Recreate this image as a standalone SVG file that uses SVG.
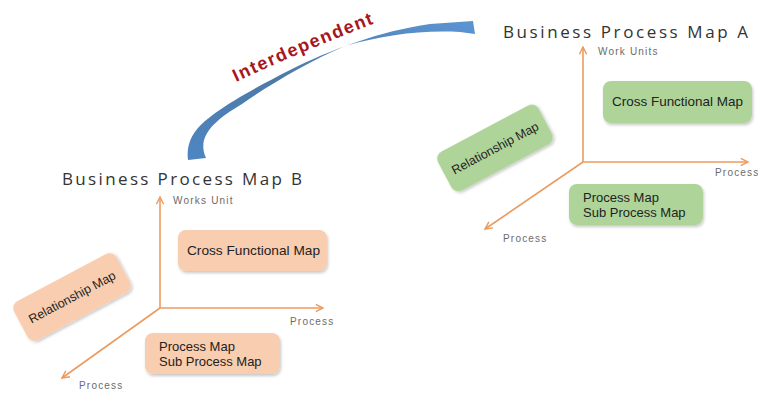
<svg xmlns="http://www.w3.org/2000/svg" width="758" height="393" viewBox="0 0 758 393">
<style>
.title{font-family:"Open Sans","Liberation Sans",Arial,sans-serif;font-size:17px;fill:#333333}
.axlbl{font-family:"Liberation Sans",Arial,sans-serif;font-size:10px;fill:#6b6b6b;letter-spacing:1.2px}
.box-b{fill:#f8cdb0}
.box-a{fill:#aed49a}
.btxt{font-family:"Liberation Sans",Arial,sans-serif;font-size:13px;fill:#222222}
.axis{stroke:#eb9b5f;stroke-width:1.6;fill:none}
.interd{font-family:"Liberation Sans",Arial,sans-serif;font-size:18px;font-weight:bold;fill:#a8151b}
</style>
<defs>
<marker id="ah" viewBox="0 0 10 10" refX="9" refY="5" markerWidth="9" markerHeight="9" markerUnits="userSpaceOnUse" orient="auto">
<path d="M1,1 L9,5 L1,9" fill="none" stroke="#eb9b5f" stroke-width="1.6"/>
</marker>
<filter id="sh" x="-10%" y="-10%" width="130%" height="140%">
<feDropShadow dx="1" dy="2" stdDeviation="1.5" flood-color="#000" flood-opacity="0.22"/>
</filter>
<linearGradient id="blue" x1="0" y1="1" x2="1" y2="0">
<stop offset="0" stop-color="#4e86c2"/>
<stop offset="0.45" stop-color="#4d7aa6"/>
<stop offset="1" stop-color="#5a95d3"/>
</linearGradient>
<path id="arcText" d="M 236,82 Q 300,52 378,22"/>
</defs>

<g id="connectors">
<!-- Map B axes -->
<line class="axis" x1="160" y1="308" x2="160" y2="197" marker-end="url(#ah)"/>
<line class="axis" x1="160" y1="308" x2="323" y2="308" marker-end="url(#ah)"/>
<line class="axis" x1="160" y1="308" x2="62" y2="378" marker-end="url(#ah)"/>
<!-- Map A axes -->
<line class="axis" x1="583" y1="162" x2="583" y2="47" marker-end="url(#ah)"/>
<line class="axis" x1="583" y1="162" x2="748" y2="162" marker-end="url(#ah)"/>
<line class="axis" x1="583" y1="162" x2="485" y2="229" marker-end="url(#ah)"/>
<!-- Interdependent arrow -->
<path id="interdependent-arrow" d="M 188,160 C 186,145 192,132 205,121 C 225,104 255,88 290,70 C 330,50 380,31 430,24 L 473,21 L 475,34 L 460,32 C 420,30 385,35 345,46 C 312,60 272,83 242,104 C 215,120 196,136 206,158 Z" fill="url(#blue)"/>
</g>

<g id="interdependent-label">
<text class="interd"><textPath href="#arcText" textLength="150" lengthAdjust="spacing">Interdependent</textPath></text>
</g>

<!-- Map A -->
<g id="title-a"><text class="title" x="503" y="38" textLength="245" lengthAdjust="spacing">Business Process Map A</text></g>
<g id="a-work-units"><text class="axlbl" x="598" y="55">Work Units</text></g>
<g id="a-process-right"><text class="axlbl" x="715" y="176">Process</text></g>
<g id="a-process-bottom"><text class="axlbl" x="503" y="242">Process</text></g>
<g id="a-cross-functional">
<rect class="box-a" x="603" y="81" width="149" height="42" rx="8" filter="url(#sh)"/>
<text class="btxt" x="612" y="106" textLength="131" lengthAdjust="spacingAndGlyphs">Cross Functional Map</text>
</g>
<g id="a-process-map">
<rect class="box-a" x="569" y="184" width="134" height="41" rx="8" filter="url(#sh)"/>
<text class="btxt" x="583" y="202">Process Map</text>
<text class="btxt" x="583" y="217">Sub Process Map</text>
</g>
<g id="a-relationship" transform="translate(495,148) rotate(-28)">
<rect class="box-a" x="-57" y="-22" width="114" height="44" rx="8" filter="url(#sh)"/>
<text class="btxt" x="0" y="4.5" text-anchor="middle" style="font-size:12.5px">Relationship Map</text>
</g>

<!-- Map B -->
<g id="title-b"><text class="title" x="62" y="185" textLength="240" lengthAdjust="spacing">Business Process Map B</text></g>
<g id="b-works-unit"><text class="axlbl" x="173" y="204">Works Unit</text></g>
<g id="b-process-right"><text class="axlbl" x="290" y="325">Process</text></g>
<g id="b-process-bottom"><text class="axlbl" x="79" y="389">Process</text></g>
<g id="b-cross-functional">
<rect class="box-b" x="178" y="230" width="149" height="41" rx="8" filter="url(#sh)"/>
<text class="btxt" x="187" y="255" textLength="133" lengthAdjust="spacingAndGlyphs">Cross Functional Map</text>
</g>
<g id="b-process-map">
<rect class="box-b" x="145" y="333" width="135" height="41" rx="8" filter="url(#sh)"/>
<text class="btxt" x="159" y="351">Process Map</text>
<text class="btxt" x="159" y="366">Sub Process Map</text>
</g>
<g id="b-relationship" transform="translate(72,297) rotate(-28)">
<rect class="box-b" x="-58" y="-22" width="116" height="44" rx="8" filter="url(#sh)"/>
<text class="btxt" x="0" y="4.5" text-anchor="middle" style="font-size:12.5px">Relationship Map</text>
</g>
</svg>
